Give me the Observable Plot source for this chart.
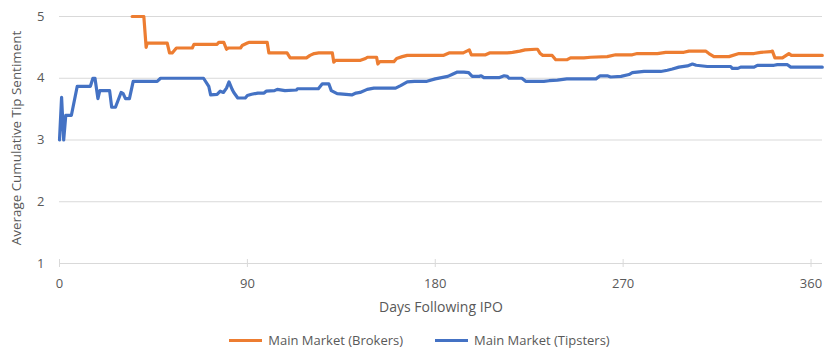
<!DOCTYPE html>
<html>
<head>
<meta charset="utf-8">
<script src="https://cdn.jsdelivr.net/npm/d3@7"></script>
<script src="https://cdn.jsdelivr.net/npm/@observablehq/plot@0.6"></script>
<style>
  body { margin: 0; background: #fff; font-family: "Open Sans", sans-serif; }
  #legend { display: flex; justify-content: center; align-items: center; height: 40px; gap: 32px; font-size: 13px; color: #595959; }
  .item { display: flex; align-items: center; gap: 6px; }
  .sw { width: 33px; height: 3px; }
</style>
</head>
<body>
<div id="chart"></div>
<div id="legend"></div>
<script>
const seriesNames = ["Main Market (Brokers)", "Main Market (Tipsters)"];
const seriesColors = ["#ED7D31", "#4472C4"];
const xTicks = [0, 90, 180, 270, 360];
const yTicks = [1, 2, 3, 4, 5];
const xTitle = "Days Following IPO";
const yTitle = "Average Cumulative Tip Sentiment";

const brokersDays = [34.8,40.4,41.5,42,51.6,52.7,54,56,63.6,64.4,75.5,76.3,78.7,80,81,86.7,87.5,90,90.7,99.5,100.3,109,110.5,118.3,120,122,124.2,130.7,131.4,132.2,144.2,146.6,147.5,151.9,152.5,153.5,160.2,161.5,164.2,166.6,183.8,186.6,193.4,196.3,197.3,204.1,206,214.5,217,220.5,223,228,229,230.3,231.5,236,237.7,243.2,244.8,251.2,254.4,262.4,266.4,274.4,276.8,286.4,290.4,299.1,301.5,309.5,311.1,313.5,320.7,325.5,332.7,335.9,340.7,341.5,342.7,346.3,349.4,350.6,365.4];
const brokersValues = [5.0,5.0,4.50,4.57,4.57,4.41,4.41,4.49,4.49,4.55,4.55,4.58,4.58,4.47,4.49,4.49,4.53,4.57,4.58,4.58,4.41,4.41,4.33,4.33,4.37,4.40,4.41,4.41,4.26,4.29,4.29,4.32,4.34,4.34,4.23,4.27,4.27,4.32,4.35,4.37,4.37,4.41,4.41,4.46,4.38,4.38,4.41,4.41,4.42,4.44,4.46,4.47,4.47,4.40,4.37,4.37,4.30,4.30,4.33,4.33,4.34,4.35,4.38,4.38,4.40,4.40,4.42,4.42,4.44,4.44,4.40,4.35,4.35,4.40,4.40,4.42,4.43,4.44,4.33,4.33,4.40,4.37,4.37];

const tipstersDays = [0,1,2,3,5.7,8.5,14.8,16,17,18.4,19.3,24,25,26.8,29.5,30.5,31.6,33.5,35.3,46.8,48.4,69,71.5,72.4,75.5,77,78.5,80,81.2,82.7,83.5,85.4,89,90,92,95,98,99,103,104.3,108,113.5,114,124,125.9,129,130.2,133,140,142,144,147.4,150.6,161,163.4,166.6,170,176,180,183,186,188,190.6,193.7,196,197.7,201,202,203.3,210.5,213,214.5,215.3,221.5,223.3,232,234.5,238.5,243,257,259,262.4,264,269,272.8,274.4,280,288,291.2,293.6,296.7,300.8,303.2,305,310.3,321.5,322.3,325,326.3,332.7,334.3,342.3,343.9,348.7,350.3,365.4];
const tipstersValues = [3.0,3.69,3.0,3.40,3.40,3.87,3.87,4.0,4.0,3.67,3.80,3.80,3.53,3.53,3.77,3.75,3.67,3.67,3.95,3.95,4.0,4.0,3.87,3.73,3.74,3.79,3.77,3.84,3.94,3.82,3.77,3.68,3.68,3.72,3.74,3.76,3.76,3.79,3.80,3.82,3.80,3.81,3.83,3.83,3.91,3.91,3.80,3.75,3.73,3.76,3.77,3.82,3.84,3.84,3.88,3.94,3.95,3.95,3.99,4.01,4.03,4.06,4.10,4.10,4.09,4.03,4.03,4.04,4.01,4.01,4.04,4.03,4.0,4.0,3.95,3.95,3.96,3.97,3.99,3.99,4.04,4.04,4.02,4.03,4.06,4.09,4.11,4.11,4.13,4.15,4.18,4.20,4.23,4.21,4.19,4.19,4.16,4.16,4.18,4.18,4.21,4.21,4.22,4.22,4.18,4.18];

const brokers = brokersDays.map((d, i) => ({day: d, value: brokersValues[i]}));
const tipsters = tipstersDays.map((d, i) => ({day: d, value: tipstersValues[i]}));

const chart = Plot.plot({
  width: 839,
  height: 320,
  marginLeft: 59,
  marginRight: 17,
  marginTop: 16,
  marginBottom: 57,
  style: {fontFamily: "'Open Sans', sans-serif", fontSize: "13px", color: "#595959", background: "#fff", overflow: "visible"},
  x: {domain: [0, 365.5], label: null},
  y: {domain: [1, 5], label: null},
  marks: [
    Plot.ruleY(yTicks, {stroke: "#d9d9d9", strokeWidth: 1}),
    Plot.ruleX(xTicks, {y1: 1 - 4/61.7, y2: 1 + 4/61.7, stroke: "#d9d9d9", strokeWidth: 1}),
    Plot.axisX({ticks: xTicks, tickSize: 0, tickPadding: 15, tickFormat: d => String(d), fill: "#595959", label: null}),
    Plot.axisY({ticks: yTicks, tickSize: 0, tickPadding: 15, tickFormat: d => String(d), fill: "#595959", label: null}),
    Plot.text([xTitle], {frameAnchor: "bottom", dy: 44, lineAnchor: "middle", fill: "#595959", fontSize: 14}),
    Plot.text([yTitle], {frameAnchor: "left", dx: -43, dy: -2, rotate: -90, lineAnchor: "middle", textAnchor: "middle", fill: "#595959", fontSize: 13.4}),
    Plot.line(brokers, {x: "day", y: "value", stroke: seriesColors[0], strokeWidth: 3.2, strokeLinejoin: "round"}),
    Plot.line(tipsters, {x: "day", y: "value", stroke: seriesColors[1], strokeWidth: 3.2, strokeLinejoin: "round"})
  ]
});
document.getElementById("chart").appendChild(chart);

const legend = document.getElementById("legend");
seriesNames.forEach((n, i) => {
  const it = document.createElement("div");
  it.className = "item";
  const sw = document.createElement("div");
  sw.className = "sw";
  sw.style.background = seriesColors[i];
  const t = document.createElement("span");
  t.textContent = n;
  it.appendChild(sw); it.appendChild(t);
  legend.appendChild(it);
});
</script>
</body>
</html>
